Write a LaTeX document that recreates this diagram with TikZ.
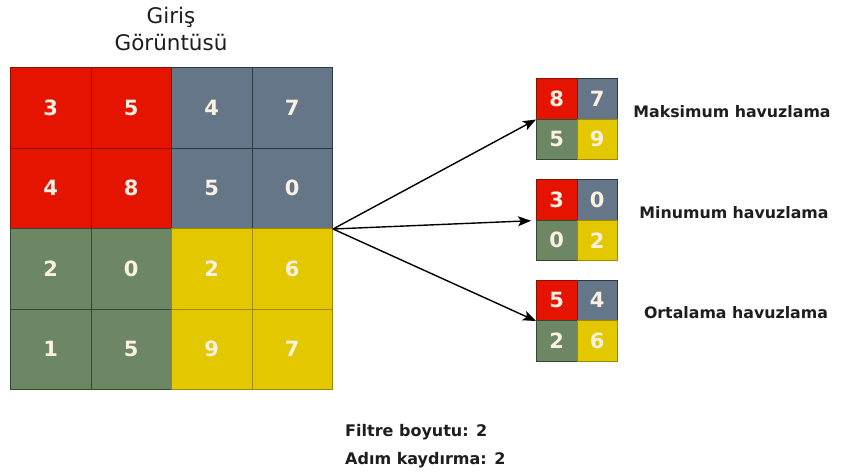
\documentclass[tikz,border=0pt]{standalone}
\usepackage{fontspec}
\setmainfont{DejaVu Sans}
\usetikzlibrary{arrows.meta}
\definecolor{redfill}{HTML}{E51400}
\definecolor{redline}{HTML}{8A1000}
\definecolor{grayfill}{HTML}{647687}
\definecolor{grayline}{HTML}{2A3846}
\definecolor{greenfill}{HTML}{6D8764}
\definecolor{greenline}{HTML}{34482E}
\definecolor{yellowfill}{HTML}{E3C800}
\definecolor{yellowline}{HTML}{9E8800}
\definecolor{numtext}{HTML}{FBF0E4}
\definecolor{labeltext}{HTML}{1E1E1E}
\tikzset{
  bigcell/.style={minimum width=80.5pt, minimum height=80.5pt, inner sep=0pt,
    anchor=north west, line width=1pt, text=numtext,
    font=\bfseries\fontsize{21}{21}\selectfont},
  smallcell/.style={minimum width=40.5pt, minimum height=40.5pt, inner sep=0pt,
    anchor=north west, line width=1pt, text=numtext,
    font=\bfseries\fontsize{21}{21}\selectfont},
  cr/.style={fill=redfill, draw=redline},
  cg/.style={fill=grayfill, draw=grayline},
  cn/.style={fill=greenfill, draw=greenline},
  cy/.style={fill=yellowfill, draw=yellowline},
  pooltext/.style={font=\bfseries\fontsize{15.8}{15.8}\selectfont, text=labeltext},
  notetext/.style={font=\bfseries\fontsize{16}{16}\selectfont, text=labeltext, anchor=west, inner sep=0pt},
  arr/.style={line width=1.4pt, -{Stealth[length=13pt, width=10pt, inset=3pt]}},
}
\begin{document}
\begin{tikzpicture}[x=1pt,y=-1pt]
\useasboundingbox[fill=white] (0,0) rectangle (854,475);

% title above the input grid
\node[align=center, text=labeltext, font=\fontsize{21.5}{27}\selectfont] (title) at (171,29) {Giriş\\Görüntüsü};

% 4x4 input grid
\foreach \v/\s [count=\i from 0] in {3/cr,5/cr,4/cg,7/cg, 4/cr,8/cr,5/cg,0/cg,
                                      2/cn,0/cn,2/cy,6/cy, 1/cn,5/cn,9/cy,7/cy}{
  \pgfmathtruncatemacro\r{int(\i/4)+1}
  \pgfmathtruncatemacro\c{mod(\i,4)+1}
  \node[bigcell, \s] (b-\r-\c) at ({10+80.5*(\c-1)}, {67+80.5*(\r-1)}) {\v};
}

% 2x2 pooled outputs
\foreach \g/\y/\a/\b/\cc/\d in {mx/78/8/7/5/9, mn/179/3/0/0/2, av/279.5/5/4/2/6}{
  \node[smallcell, cr] (\g-1-1) at (536, \y) {\a};
  \node[smallcell, cg] (\g-1-2) at (576.5, \y) {\b};
  \node[smallcell, cn] (\g-2-1) at (536, \y+40.5) {\cc};
  \node[smallcell, cy] (\g-2-2) at (576.5, \y+40.5) {\d};
}

% pooling labels
\node[pooltext] (lmx) at (732,112) {Maksimum havuzlama};
\node[pooltext] (lmn) at (734,213) {Minumum havuzlama};
\node[pooltext] (lav) at (736,313) {Ortalama havuzlama};

% arrows from the input grid to each pooled result
\draw[arr] (b-2-4.south east) -- (mx-1-1.south west);
\draw[arr, shorten >=5pt] (b-2-4.south east) -- (mn-1-1.south west);
\draw[arr] (b-2-4.south east) -- (av-1-1.south west);

% parameters
\node[notetext] (f1) at (345,432) {Filtre boyutu: 2};
\node[notetext] (f2) at (345,460) {Adım kaydırma: 2};
\end{tikzpicture}
\end{document}
